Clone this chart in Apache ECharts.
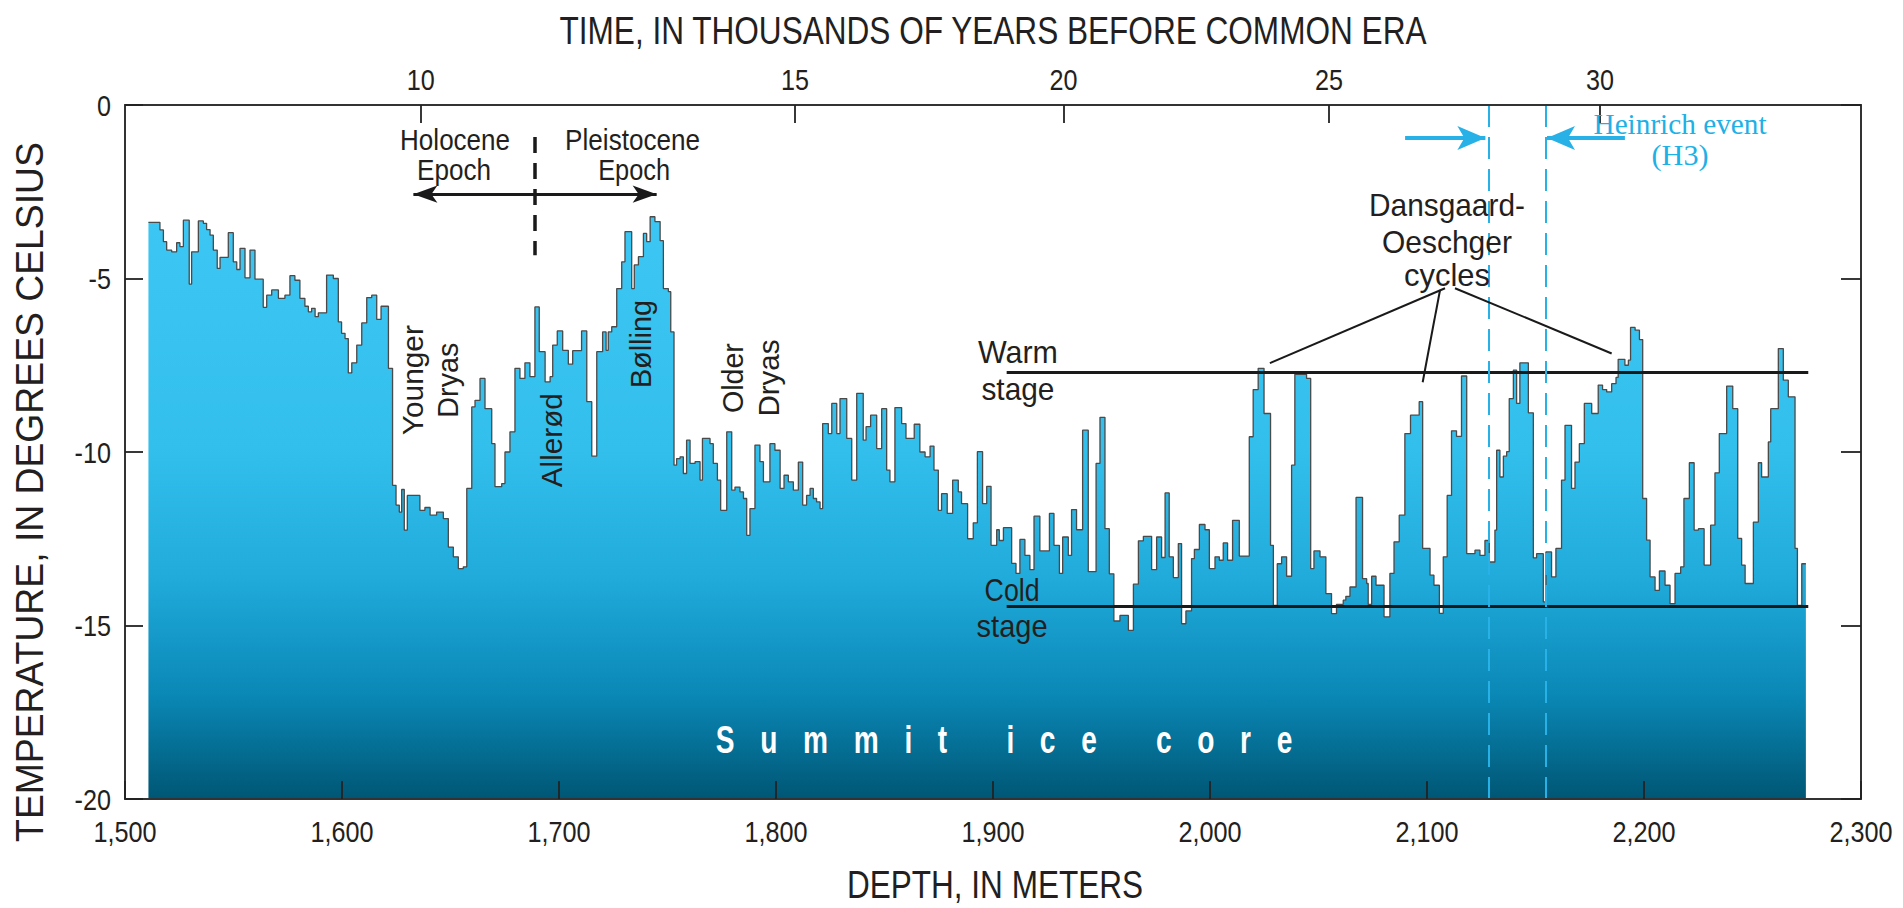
<!DOCTYPE html>
<html><head><meta charset="utf-8">
<script src="https://cdn.jsdelivr.net/npm/echarts@6/dist/echarts.min.js"></script>
<style>html,body{margin:0;padding:0;background:#fff}#c{width:1903px;height:908px}</style>
</head><body><div id="c"></div>
<script>
// ---- DATA (depth in m where a step starts, temperature in deg C) ----
const summitCoreSteps = [
[1510.8,-3.38],[1516.1,-3.60],[1517.7,-3.94],[1519.2,-4.18],[1521.5,-4.23],[1523.8,-3.97],[1525.3,-4.08],[1526.9,-3.32],[1529.6,-5.16],[1530.7,-4.23],
[1533.8,-3.34],[1536.1,-3.41],[1537.6,-3.59],[1539.2,-3.75],[1540.7,-4.18],[1542.5,-4.71],[1543.8,-4.39],[1547.6,-3.68],[1549.9,-4.52],[1551.5,-4.74],
[1553.0,-4.13],[1555.3,-4.98],[1557.6,-4.18],[1559.9,-5.02],[1563.7,-5.83],[1565.3,-5.48],[1567.6,-5.33],[1570.7,-5.57],[1573.7,-5.48],[1576.0,-4.92],
[1578.3,-5.05],[1580.6,-5.57],[1582.9,-5.80],[1584.5,-5.96],[1586.0,-5.86],[1587.6,-6.10],[1589.1,-5.99],[1592.9,-4.90],[1596.0,-5.00],[1598.3,-6.25],
[1599.8,-6.58],[1601.4,-6.73],[1602.9,-7.72],[1604.5,-7.43],[1606.8,-6.92],[1609.1,-6.28],[1611.4,-5.55],[1613.7,-5.48],[1616.0,-6.18],[1618.0,-5.80],
[1621.4,-7.59],[1623.3,-10.96],[1624.9,-11.53],[1626.4,-11.73],[1627.5,-11.08],[1628.7,-12.25],[1630.1,-11.25],[1635.9,-11.68],[1638.2,-11.60],[1640.6,-11.82],
[1643.6,-11.73],[1646.7,-11.92],[1649.0,-12.74],[1651.3,-13.02],[1653.6,-13.36],[1655.9,-13.31],[1657.5,-11.05],[1659.8,-8.70],[1661.3,-8.51],[1663.6,-7.88],
[1665.9,-8.75],[1669.0,-9.76],[1670.5,-11.00],[1673.6,-10.91],[1675.1,-10.00],[1677.4,-9.42],[1679.7,-7.59],[1682.0,-7.88],[1684.3,-7.43],[1686.6,-7.83],
[1688.9,-5.82],[1690.9,-7.11],[1693.6,-7.98],[1695.9,-7.83],[1697.1,-6.92],[1699.2,-6.51],[1701.7,-7.07],[1704.3,-7.47],[1706.3,-7.08],[1710.4,-6.51],
[1712.8,-8.55],[1715.1,-10.12],[1717.4,-7.11],[1720.1,-6.54],[1721.7,-7.07],[1722.7,-6.54],[1724.3,-6.39],[1726.6,-5.29],[1728.9,-4.52],[1730.4,-3.65],
[1733.5,-5.29],[1734.7,-4.61],[1736.6,-4.37],[1738.9,-3.70],[1740.4,-3.94],[1742.0,-3.22],[1744.2,-3.36],[1746.6,-3.91],[1748.1,-5.29],[1750.4,-5.38],
[1751.5,-6.54],[1753.0,-10.38],[1754.2,-10.19],[1755.8,-10.14],[1757.3,-10.62],[1758.8,-9.66],[1760.4,-10.33],[1762.7,-10.28],[1765.0,-10.81],[1766.1,-9.61],
[1769.6,-9.76],[1771.1,-10.33],[1773.0,-10.81],[1774.5,-11.68],[1777.3,-9.42],[1779.6,-11.10],[1781.1,-11.01],[1783.4,-11.15],[1785.0,-11.34],[1786.5,-12.40],
[1788.0,-11.63],[1790.3,-9.80],[1792.6,-10.28],[1794.2,-10.86],[1797.2,-9.76],[1799.5,-9.95],[1801.9,-11.05],[1803.7,-10.67],[1805.7,-10.86],[1808.0,-11.10],
[1810.3,-10.29],[1812.3,-11.53],[1814.1,-11.25],[1815.7,-11.05],[1817.2,-11.34],[1818.7,-11.44],[1820.3,-11.63],[1821.5,-9.18],[1824.1,-9.47],[1825.7,-8.60],
[1828.0,-9.47],[1829.5,-8.46],[1832.6,-9.61],[1834.9,-10.81],[1837.2,-8.31],[1840.2,-9.66],[1841.5,-9.27],[1843.6,-8.94],[1846.4,-9.90],[1848.7,-8.75],
[1851.0,-10.52],[1852.5,-10.86],[1854.8,-8.72],[1857.9,-9.18],[1859.9,-9.61],[1863.7,-9.20],[1866.3,-10.00],[1868.7,-10.14],[1871.0,-9.83],[1872.8,-10.52],
[1874.8,-11.68],[1876.3,-11.20],[1878.9,-11.77],[1881.4,-10.81],[1884.0,-11.15],[1885.5,-11.49],[1888.3,-12.50],[1890.9,-12.04],[1892.8,-9.99],[1895.2,-11.49],
[1897.1,-10.99],[1899.1,-12.69],[1901.7,-12.24],[1902.9,-12.55],[1904.8,-12.18],[1908.6,-13.21],[1910.6,-13.50],[1912.4,-12.52],[1914.7,-12.98],[1917.0,-13.39],
[1918.9,-11.85],[1921.6,-12.85],[1926.0,-11.77],[1928.1,-12.69],[1930.6,-13.50],[1932.1,-12.45],[1934.7,-12.98],[1936.2,-11.66],[1938.5,-12.24],[1941.3,-9.37],
[1943.9,-13.45],[1947.5,-10.33],[1949.3,-9.00],[1951.6,-12.21],[1953.6,-13.51],[1955.7,-14.87],[1958.5,-14.71],[1962.4,-15.14],[1964.7,-13.81],[1967.0,-12.56],
[1969.3,-12.43],[1973.1,-13.39],[1975.4,-12.45],[1977.7,-13.04],[1979.3,-11.18],[1981.2,-13.02],[1983.1,-13.62],[1985.4,-12.64],[1986.9,-14.95],[1988.9,-14.58],
[1991.5,-13.07],[1992.8,-12.81],[1995.1,-12.09],[1997.7,-12.24],[1999.7,-13.36],[2002.3,-13.02],[2004.3,-13.12],[2006.1,-12.62],[2008.1,-13.12],[2010.4,-11.97],
[2013.5,-13.00],[2018.1,-9.56],[2019.9,-8.20],[2022.2,-7.59],[2024.9,-8.89],[2027.9,-12.69],[2029.2,-14.42],[2031.0,-13.22],[2033.0,-13.02],[2035.3,-13.58],
[2037.6,-10.38],[2039.1,-7.76],[2044.5,-7.88],[2046.4,-13.36],[2047.9,-12.85],[2050.7,-13.02],[2053.4,-14.08],[2056.0,-14.66],[2058.3,-14.39],[2061.4,-14.27],
[2062.6,-14.16],[2064.5,-13.89],[2067.3,-11.31],[2070.3,-13.65],[2072.2,-13.79],[2072.9,-14.39],[2074.5,-13.58],[2076.5,-13.84],[2080.2,-14.75],[2082.9,-13.50],
[2084.8,-12.59],[2087.2,-11.82],[2089.8,-9.47],[2092.4,-8.94],[2096.4,-8.55],[2098.0,-12.78],[2101.4,-13.55],[2103.2,-13.84],[2105.7,-14.65],[2107.5,-13.02],
[2109.3,-11.25],[2111.3,-9.39],[2113.6,-9.55],[2115.9,-7.81],[2118.3,-12.93],[2122.1,-12.83],[2124.4,-12.98],[2126.7,-12.55],[2128.7,-13.17],[2131.3,-12.25],
[2132.1,-9.95],[2133.6,-10.72],[2135.2,-10.12],[2136.7,-9.99],[2137.9,-8.46],[2139.8,-7.64],[2141.3,-8.60],[2142.8,-7.43],[2146.7,-8.87],[2149.0,-13.05],
[2150.5,-12.93],[2153.6,-14.32],[2154.8,-12.88],[2157.4,-13.60],[2159.4,-12.78],[2162.0,-10.81],[2163.6,-9.23],[2166.6,-11.05],[2168.2,-10.29],[2170.2,-9.76],
[2172.5,-8.60],[2175.9,-8.89],[2178.9,-8.07],[2180.9,-8.20],[2182.8,-8.27],[2185.1,-8.03],[2187.1,-7.85],[2188.1,-7.33],[2191.2,-7.50],[2192.8,-7.35],
[2193.8,-6.41],[2195.9,-6.49],[2197.9,-6.76],[2199.4,-11.34],[2201.2,-12.54],[2202.8,-13.60],[2205.1,-13.99],[2207.1,-13.43],[2209.7,-13.84],[2212.0,-14.37],
[2214.3,-13.50],[2216.9,-13.31],[2218.4,-11.34],[2220.9,-10.31],[2223.1,-12.25],[2225.1,-12.21],[2227.7,-13.26],[2230.7,-12.11],[2232.7,-10.60],[2234.7,-9.47],
[2238.1,-8.10],[2240.9,-8.75],[2243.2,-12.49],[2245.0,-13.26],[2246.6,-13.79],[2250.4,-12.02],[2252.7,-10.31],[2254.2,-10.72],[2257.3,-9.71],[2258.4,-8.75],
[2261.9,-7.02],[2264.2,-7.93],[2266.5,-8.41],[2269.6,-12.78],[2270.7,-14.42],[2272.7,-13.22]
];
const coreBottomDepth = 2274.6;

// top (time) axis: labels in thousands of years and the depth where each sits
const timeTickLabels = ['10', '15', '20', '25', '30'];
const timeTickDepths = [1636.3, 1808.8, 1932.5, 2054.8, 2179.7];

// stage reference lines (deg C) and their depth span
const warmStageTemp = -7.69;
const coldStageTemp = -14.45;
const stageLineDepths = [1906.3, 2275.7];

// Heinrich event H3 bounds (depth, m)
const heinrichDepths = [2128.3, 2154.7];
// Holocene / Pleistocene boundary depth
const epochBoundaryDepth = 1688.9;

// ---- fonts ----
const mctx = document.createElement('canvas').getContext('2d');
function measure(str, font) { mctx.font = font; return mctx.measureText(str).width; }
function hasFont(name) {
  const s = 'TIME, IN THOUSANDS 0123 Holocene';
  return Math.abs(measure(s, '40px monospace') - measure(s, '40px "' + name + '", monospace')) > 0.5;
}
let NARROW;
const NARROW_OK = hasFont('Liberation Sans Narrow');
if (NARROW_OK) NARROW = '"Liberation Sans Narrow", "Liberation Sans", sans-serif';
else NARROW = '"Liberation Sans", Arial, sans-serif';
const SERIF = '"Liberation Serif", "Times New Roman", serif';
const INK = '#231f20';
const TICKSIZE = 30;

const chart = echarts.init(document.getElementById('c'), null, { renderer: 'svg', width: 1903, height: 908 });

const stepData = summitCoreSteps.concat([[coreBottomDepth, summitCoreSteps[summitCoreSteps.length - 1][1]]]);

const axisLineStyle = { color: '#333', width: 2 };
const tickLineStyle = { color: '#222', width: 1.8 };

function seg(a, b, style, s0, s1, sz) {
  return [
    { coord: a, symbol: s0 || 'none', symbolSize: sz || 10 },
    { coord: b, symbol: s1 || 'none', symbolSize: sz || 10, lineStyle: style }
  ];
}
const black = (w) => ({ color: '#1a1a1a', width: w, type: 'solid', opacity: 1 });
const cyan = '#27b1e6';

const option = {
  animation: false,
  grid: { left: 125, right: 42, top: 105, bottom: 109, containLabel: false },
  xAxis: [
    {
      type: 'value', position: 'bottom', min: 1500, max: 2300, interval: 100, z: 5,
      axisLine: { show: true, onZero: false, lineStyle: axisLineStyle },
      axisTick: { show: true, inside: true, length: 18, lineStyle: tickLineStyle },
      axisLabel: { formatter: v => v.toLocaleString('en-US'), fontSize: TICKSIZE, fontFamily: NARROW, color: INK, margin: 17 },
      splitLine: { show: false }
    },
    {
      type: 'value', position: 'top', min: 1500, max: 2300, z: 5,
      axisLine: { show: true, onZero: false, lineStyle: axisLineStyle },
      axisTick: { show: true, inside: true, length: 18, customValues: timeTickDepths, lineStyle: tickLineStyle },
      axisLabel: {
        show: true, customValues: timeTickDepths,
        formatter: v => { const i = timeTickDepths.indexOf(v); return i >= 0 ? timeTickLabels[i] : ''; },
        fontSize: TICKSIZE, fontFamily: NARROW, color: INK, margin: 11
      },
      splitLine: { show: false }
    }
  ],
  yAxis: [
    {
      type: 'value', position: 'left', min: -20, max: 0, interval: 5, z: 5,
      axisLine: { show: true, onZero: false, lineStyle: axisLineStyle },
      axisTick: { show: true, inside: true, length: 18, lineStyle: tickLineStyle },
      axisLabel: { fontSize: TICKSIZE, fontFamily: NARROW, color: INK, margin: 14 },
      splitLine: { show: false }
    },
    {
      type: 'value', position: 'right', min: -20, max: 0, interval: 5, z: 5,
      axisLine: { show: true, onZero: false, lineStyle: axisLineStyle },
      axisTick: { show: true, inside: true, length: 20, lineStyle: tickLineStyle },
      axisLabel: { show: false },
      splitLine: { show: false }
    }
  ],
  series: [
    {
      type: 'line', xAxisIndex: 0, yAxisIndex: 0, step: 'end', symbol: 'none', z: 2,
      data: stepData,
      lineStyle: { color: '#4a4a4a', width: 1.3 },
      areaStyle: {
        origin: 'start', opacity: 1,
        color: new echarts.graphic.LinearGradient(0, 0, 0, 1, [
          { offset: 0, color: '#3cc6f3' },
          { offset: 0.4, color: '#33bfec' },
          { offset: 0.62, color: '#20abdb' },
          { offset: 0.82, color: '#0a88b6' },
          { offset: 1, color: '#005674' }
        ])
      },
      markLine: {
        silent: true, animation: false, symbol: 'none', label: { show: false },
        lineStyle: black(2),
        data: [
          seg([stageLineDepths[0], warmStageTemp], [stageLineDepths[1], warmStageTemp], black(3)),
          seg([stageLineDepths[0], coldStageTemp], [stageLineDepths[1], coldStageTemp], black(3)),
          seg([heinrichDepths[0], 0], [heinrichDepths[0], -20], { color: cyan, width: 2, type: [22, 10] }),
          seg([heinrichDepths[1], 0], [heinrichDepths[1], -20], { color: cyan, width: 2, type: [22, 10] }),
          seg([2089.9, -0.95], [heinrichDepths[0] - 1.4, -0.95], { color: cyan, width: 4, type: 'solid' }, 'none', 'arrow', [18, 28]),
          seg([2191.2, -0.95], [heinrichDepths[1] + 0.6, -0.95], { color: cyan, width: 4, type: 'solid' }, 'none', 'arrow', [18, 28]),
          seg([1632.9, -2.57], [1745.0, -2.57], black(3), 'arrow', 'arrow', [13, 24]),
          seg([epochBoundaryDepth, -0.92], [epochBoundaryDepth, -4.33], { color: '#1a1a1a', width: 3.5, type: [16, 10] }),
          seg([2108.3, -5.28], [2027.6, -7.44], black(2)),
          seg([2106.0, -5.33], [2098.0, -7.99], black(2)),
          seg([2112.9, -5.28], [2185.1, -7.16], black(2))
        ]
      }
    }
  ]
};
chart.setOption(option);

// ---- annotation texts ----
function txt(str, px, py, o) {
  const size = o.size || 30, family = o.family || NARROW, weight = o.weight || 'normal';
  const font = weight + ' ' + size + 'px ' + family;
  let sx = o.sx || 1;
  if (o.w) sx = o.w / measure(str, font);
  return {
    type: 'text', x: px, y: py, rotation: o.rot || 0, scaleX: sx, scaleY: 1, z: 100, silent: true,
    style: {
      text: str, font: font, fill: o.color || INK,
      align: 'center', verticalAlign: 'middle', textAlign: 'center', textVerticalAlign: 'middle'
    }
  };
}
function at(d, t) { return chart.convertToPixel({ xAxisIndex: 0, yAxisIndex: 0 }, [d, t]); }
function dtxt(str, d, t, o) { const p = at(d, t); return txt(str, p[0] + (o.dx || 0), p[1], o); }

// "Summit ice core": condensed bold glyphs, wide letter spacing
const SUMMIT = 'Summit ice core';
const SUMMIT_FONT = 'bold 38px ' + NARROW;
const SUMMIT_SX = 0.74;
const SUMMIT_W = 577;
const SUMMIT_LS = Math.max(0, (SUMMIT_W / SUMMIT_SX - measure(SUMMIT, SUMMIT_FONT)) / (SUMMIT.length - 1));

const R = Math.PI / 2;
const graphics = [
  txt('TIME, IN THOUSANDS OF YEARS BEFORE COMMON ERA', 993, 30, { size: 38, w: 868 }),
  txt('DEPTH, IN METERS', 995, 884, { size: 38, w: 296 }),
  txt('TEMPERATURE, IN DEGREES CELSIUS', 30, 492, { size: 38, w: 700, rot: R }),
  dtxt('Holocene', 1652.1, -1.01, { w: 110 }),
  dtxt('Epoch', 1651.6, -1.87, { w: 74 }),
  dtxt('Pleistocene', 1733.9, -1.01, { w: 135 }),
  dtxt('Epoch', 1734.6, -1.87, { w: 72 }),
  dtxt('Younger', 1632.7, -7.93, { w: 110, rot: R }),
  dtxt('Dryas', 1648.6, -7.93, { w: 75, rot: R }),
  dtxt('Allerød', 1696.3, -9.66, { w: 94, rot: R }),
  dtxt('Bølling', 1737.3, -6.89, { w: 88, rot: R }),
  dtxt('Older', 1780.0, -7.87, { w: 70, rot: R }),
  dtxt('Dryas', 1796.3, -7.87, { w: 77, rot: R }),
  dtxt('Warm', 1911.5, -7.12, { size: 32, w: 80 }),
  dtxt('stage', 1911.5, -8.19, { size: 32, w: 73 }),
  dtxt('Cold', 1908.8, -13.96, { size: 32, w: 55 }),
  dtxt('stage', 1908.8, -14.99, { size: 32, w: 71 }),
  dtxt('Dansgaard-', 2109.2, -2.88, { size: 32, w: 156 }),
  dtxt('Oeschger', 2109.2, -3.95, { size: 32, w: 130 }),
  dtxt('cycles', 2109.2, -4.90, { size: 32, w: 86 }),
  dtxt('Heinrich event', 2216.6, -0.55, { size: 29, family: SERIF, color: '#1fb0e6', w: 173 }),
  dtxt('(H3)', 2216.6, -1.44, { size: 29, family: SERIF, color: '#1fb0e6', w: 57 }),
  dtxt(SUMMIT, 1905.1, -18.31, { size: 38, weight: 'bold', color: '#ffffff', sx: SUMMIT_SX, dx: SUMMIT_LS * SUMMIT_SX / 2 })
];
chart.setOption({ graphic: { elements: graphics } });

function postStyle() {
  document.querySelectorAll('#c text').forEach(el => {
    const t = el.textContent.trim();
    if (t === SUMMIT) {
      el.setAttribute('letter-spacing', SUMMIT_LS.toFixed(1));
      el.style.letterSpacing = SUMMIT_LS.toFixed(1) + 'px';
    } else if (!NARROW_OK && /^-?[\d,]+$/.test(t) && !el.getAttribute('data-cond')) {
      const L = el.getComputedTextLength ? el.getComputedTextLength() : 0;
      if (L > 0) {
        el.setAttribute('textLength', (L * 0.84).toFixed(1));
        el.setAttribute('lengthAdjust', 'spacingAndGlyphs');
        el.setAttribute('data-cond', '1');
      }
    }
  });
}
chart.on('finished', postStyle);
postStyle();
setTimeout(postStyle, 50);
setTimeout(postStyle, 400);
</script>
</body></html>
